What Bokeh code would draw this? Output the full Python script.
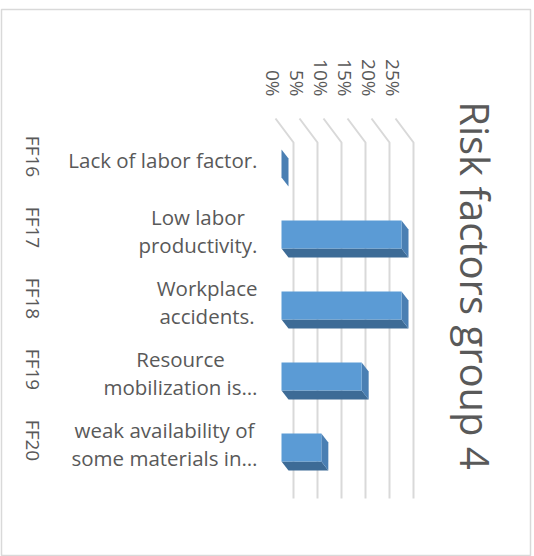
import math
from bokeh.plotting import figure
from bokeh.models import Range1d, Label
from bokeh.core.properties import value
from bokeh.embed import file_html
from bokeh.resources import INLINE

# ---- data ----
codes = ["FF16", "FF17", "FF18", "FF19", "FF20"]
labels = [
    "Lack of labor factor.",
    "Low labor\nproductivity.",
    "Workplace\naccidents.",
    "Resource\nmobilization is…",
    "weak availability of\nsome materials in…",
]
values = [0.0, 25.0, 25.0, 16.7, 8.3]          # percent
ticks = [0, 5, 10, 15, 20, 25]
tick_labels = ["0%", "5%", "10%", "15%", "20%", "25%"]
title_text = "Risk factors group 4"

# ---- layout constants (pixels) ----
W, H = 534, 556
FL, FR, FT, FB = 1, 530, 9, 556          # chart-area border box
X0, PXV = 281.0, 4.8                     # pixel of 0 %, pixels per percent
Y0, PXC = 163.0, 71.0                    # pixel of first category, pixels per category
GREY = "#595959"
FONT = "Open Sans"


def dx(px):
    return px / PXV


def dy(px):
    return px / PXC


p = figure(
    width=W, height=H, output_backend="svg", toolbar_location=None,
    x_range=Range1d((FL - X0) / PXV, (FR - X0) / PXV),
    y_range=Range1d((FB - Y0) / PXC, (FT - Y0) / PXC),
    min_border_left=FL, min_border_right=W - FR,
    min_border_top=FT, min_border_bottom=H - FB,
    x_axis_location=None, y_axis_location=None,
)
p.grid.visible = False
p.outline_line_color = "#d9d9d9"
p.outline_line_width = 1.5
p.background_fill_color = "white"
p.border_fill_color = "white"

idx = list(range(len(codes)))

# ---- 3-D style gridlines (back wall + floor edge) ----
ya, yb, yc = dy(118 - Y0), dy(142 - Y0), dy(498 - Y0)
g_xs = [[t + dx(-6), t + dx(12), t + dx(12)] for t in ticks]
g_ys = [[ya, yb, yc] for _ in ticks]
p.multi_line(g_xs, g_ys, line_color="#d9d9d9", line_width=2)

# ---- 3-D bars ----
h = dy(28)
ex, ey = dx(7), dy(9)
bot_xs = [[0, v, v + ex, ex] for v in values]
bot_ys = [[i + h / 2, i + h / 2, i + h / 2 + ey, i + h / 2 + ey] for i in idx]
p.patches(bot_xs, bot_ys, fill_color="#3D6B96", line_color=None)
side_xs = [[v, v + ex, v + ex, v] for v in values]
side_ys = [[i - h / 2, i - h / 2 + ey, i + h / 2 + ey, i + h / 2] for i in idx]
p.patches(side_xs, side_ys, fill_color="#4A7FB3", line_color=None)
p.quad(left=[0] * len(values), right=values,
       top=[i - h / 2 for i in idx], bottom=[i + h / 2 for i in idx],
       fill_color="#5B9BD5", line_color=None)

# ---- tick labels (rotated) ----
p.text(x=ticks, y=[dy(96 - Y0)] * len(ticks), text=tick_labels,
       angle=-math.pi / 2, x_offset=-9,
       text_align="right", text_baseline="middle",
       text_font=value(FONT), text_font_size="19px", text_color=GREY)

# ---- category codes (rotated) ----
p.text(x=[0] * len(codes), y=idx, text=codes,
       angle=-math.pi / 2, x_offset=-249, y_offset=-7,
       text_align="center", text_baseline="middle",
       text_font=value(FONT), text_font_size="19px", text_color=GREY)

# ---- category names ----
p.text(x=[0] * len(labels), y=idx, text=labels,
       x_offset=-24, y_offset=-4, anchor="center_right",
       text_align="center", text_baseline="middle", text_line_height=1.0,
       text_font=value(FONT), text_font_size="20.5px", text_color=GREY)

# ---- title (rotated) ----
p.add_layout(Label(x=474, y=271, x_units="screen", y_units="screen",
                   text=title_text, angle=-math.pi / 2,
                   text_align="center", text_baseline="alphabetic",
                   text_font=FONT, text_font_size="40px", text_color=GREY))

open("out.html", "w").write(file_html(p, INLINE))
